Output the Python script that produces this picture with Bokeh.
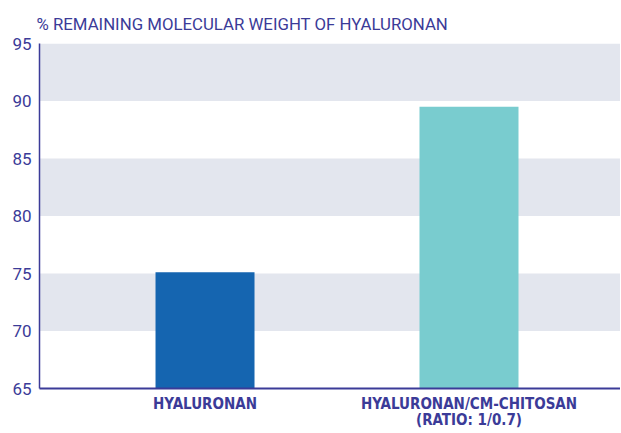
from bokeh.plotting import figure
from bokeh.models import FixedTicker, Range1d
from bokeh.embed import file_html
from bokeh.resources import INLINE

categories = ["HYALURONAN", "HYALURONAN/CM-CHITOSAN\n(RATIO: 1/0.7)"]
positions = [0, 1]
values = [75.1, 89.5]
colors = ["#1565b0", "#79cccf"]
y_ticks = [65, 70, 75, 80, 85, 90, 95]

INK = "#3b3b98"

p = figure(width=620, height=432, output_backend="svg", toolbar_location=None,
           x_range=Range1d(-0.627, 1.5436 + 8 / 264), y_range=Range1d(65, 95),
           min_border_left=39, min_border_right=0, min_border_top=43, min_border_bottom=44)
p.title.text = "% REMAINING MOLECULAR WEIGHT OF HYALURONAN"
p.title.align = "left"
p.title.offset = -3
p.title.standoff = 19
p.title.text_color = INK
p.title.text_font = "Roboto"
p.title.text_font_style = "normal"
p.title.text_font_size = "16.8px"

p.vbar(x=positions, top=values, bottom=65, width=0.375, color=colors, line_color=None)

p.outline_line_color = None
p.background_fill_color = "white"
p.xgrid.grid_line_color = None
p.ygrid.grid_line_color = None
p.ygrid.ticker = FixedTicker(ticks=y_ticks)
p.ygrid.band_fill_color = "#e3e6ee"
p.ygrid.band_fill_alpha = 1.0
p.ygrid.level = "underlay"

p.yaxis.ticker = FixedTicker(ticks=y_ticks)
p.yaxis.major_tick_line_color = None
p.yaxis.minor_tick_line_color = None
p.yaxis.axis_line_color = INK
p.yaxis.axis_line_width = 1.5
p.yaxis.major_label_text_color = INK
p.yaxis.major_label_text_font = "Roboto"
p.yaxis.major_label_text_font_size = "17px"
p.yaxis.major_label_standoff = 2

p.xaxis.ticker = FixedTicker(ticks=positions)
p.xaxis.major_label_overrides = {pos: lab for pos, lab in zip(positions, categories)}
p.xaxis.major_tick_line_color = None
p.xaxis.minor_tick_line_color = None
p.xaxis.axis_line_color = INK
p.xaxis.axis_line_width = 2
p.xaxis.major_label_text_color = INK
p.xaxis.major_label_text_font = "DejaVu Sans Condensed"
p.xaxis.major_label_text_font_style = "bold"
p.xaxis.major_label_text_font_size = "15px"
p.xaxis.major_label_text_line_height = 0.9
p.xaxis.major_label_standoff = 0

open("out.html", "w").write(file_html(p, INLINE))
